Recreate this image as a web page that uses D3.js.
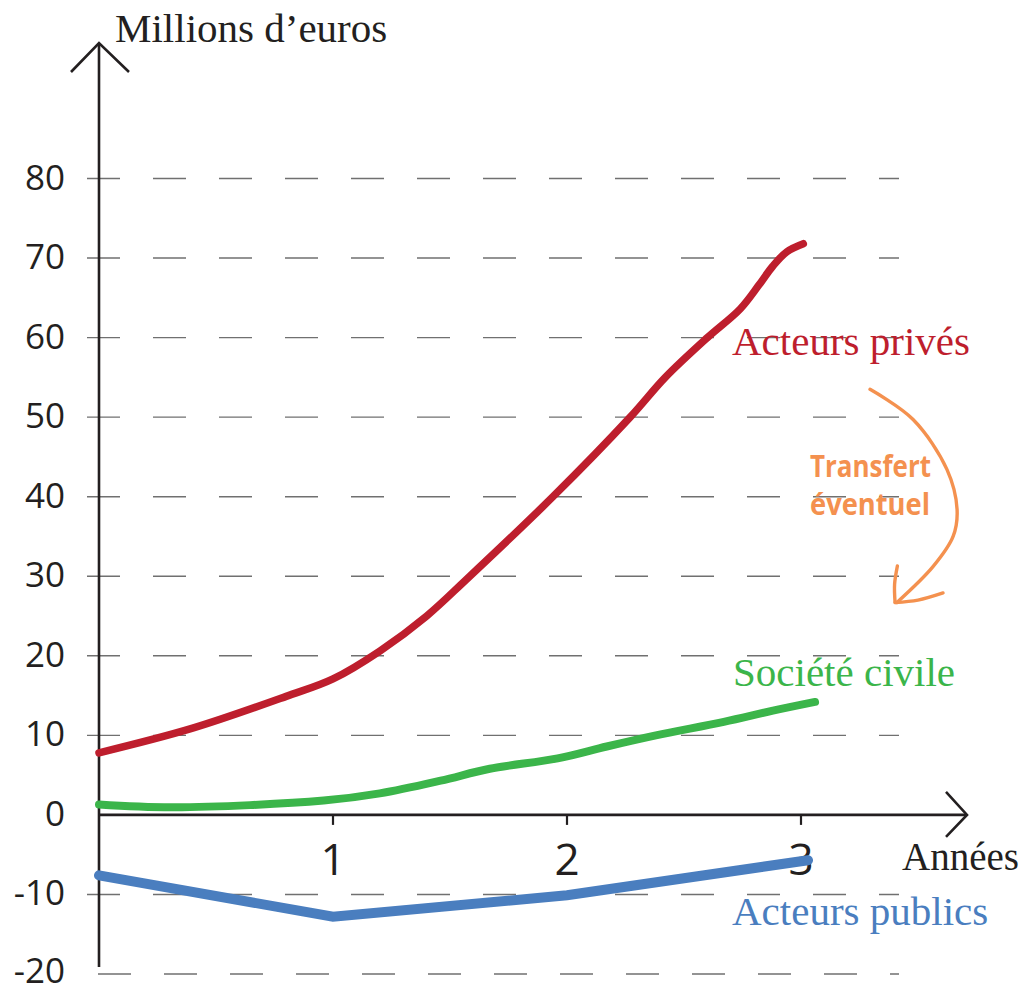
<!DOCTYPE html>
<html lang="fr">
<head>
<meta charset="utf-8">
<script src="https://cdn.jsdelivr.net/npm/d3@7"></script>
<style>
  html, body { margin: 0; padding: 0; background: #ffffff; }
  svg { display: block; }
</style>
</head>
<body>
<svg id="chart" width="1027" height="992"></svg>
<script>
// ---- Data (years on x, millions of euros on y) ----
const yTickValues = [-20, -10, 0, 10, 20, 30, 40, 50, 60, 70, 80];
const xTickValues = [1, 2, 3];

const privesYears  = [0, 0.4, 0.8, 1.0, 1.2, 1.4, 1.57, 1.94, 2.27, 2.42, 2.6, 2.74, 2.82, 2.88, 2.94, 3.01];
const privesValues = [7.8, 10.9, 14.9, 17.1, 20.6, 25.0, 29.6, 40, 50, 55, 60, 63.6, 66.6, 69.0, 70.8, 71.8];

const civileYears  = [0, 0.32, 0.96, 1.2, 1.46, 1.67, 1.96, 2.17, 2.38, 2.67, 2.88, 3.06];
const civileValues = [1.3, 0.95, 1.8, 2.7, 4.3, 5.8, 7.1, 8.6, 10.0, 11.7, 13.1, 14.2];

const publicsYears  = [0, 1, 2, 3.03];
const publicsValues = [-7.6, -12.8, -10.1, -5.7];

const zip = (xs, ys) => xs.map((x, i) => ({ x, y: ys[i] }));

// ---- Scales ----
const svg = d3.select("#chart");
const x = d3.scaleLinear().domain([0, 3]).range([99, 801]);
const y = d3.scaleLinear().domain([-20, 80]).range([974, 178.5]);

const ink = "#231f20";
const colPrives = "#be1e2d";
const colCivile = "#3bb54a";
const colPublics = "#4a7ebf";
const colTransfert = "#f4914f";

// ---- Dashed horizontal guides ----
const grid = svg.append("g");
grid.selectAll("line")
  .data(yTickValues.filter(v => v !== 0))
  .join("line")
  .attr("x1", v => v === -20 ? 98 : 87)
  .attr("x2", 899)
  .attr("y1", v => y(v))
  .attr("y2", v => y(v))
  .attr("stroke", "#707070")
  .attr("stroke-width", 1.4)
  .attr("stroke-dasharray", "33 33");

// ---- Y tick labels ----
svg.append("g").selectAll("text")
  .data(yTickValues)
  .join("text")
  .attr("x", 65)
  .attr("y", v => y(v) + (v === -20 ? 9 : 11))
  .attr("text-anchor", "end")
  .attr("font-family", "'Open Sans', 'Noto Sans', sans-serif")
  .attr("font-size", 35)
  .attr("fill", ink)
  .text(v => v);

// ---- Axes with open arrowheads ----
const axes = svg.append("g")
  .attr("stroke", ink)
  .attr("fill", "none")
  .attr("stroke-width", 2.6);

axes.append("line")
  .attr("x1", x(0)).attr("x2", x(0))
  .attr("y1", 43).attr("y2", 967);
axes.append("polyline")
  .attr("points", [[x(0) - 28, 72], [x(0), 43], [x(0) + 30, 72]].join(" "));

axes.append("line")
  .attr("x1", x(0)).attr("x2", 967)
  .attr("y1", y(0)).attr("y2", y(0));
axes.append("polyline")
  .attr("points", [[946, y(0) - 23], [967, y(0)], [946, y(0) + 22]].join(" "));

axes.selectAll("line.tick")
  .data(xTickValues)
  .join("line")
  .attr("class", "tick")
  .attr("x1", d => x(d)).attr("x2", d => x(d))
  .attr("y1", y(0)).attr("y2", y(0) + 10)
  .attr("stroke-width", 2.2);

svg.append("g").selectAll("text")
  .data(xTickValues)
  .join("text")
  .attr("x", d => x(d))
  .attr("y", 875)
  .attr("text-anchor", "middle")
  .attr("font-family", "'Open Sans', 'Noto Sans', sans-serif")
  .attr("font-size", 44)
  .attr("fill", ink)
  .text(d => d);

// Axis titles
svg.append("text")
  .attr("x", 115).attr("y", 42)
  .attr("font-family", "'Liberation Serif', 'Times New Roman', serif")
  .attr("font-size", 41)
  .attr("fill", ink)
  .text("Millions d\u2019euros");

svg.append("text")
  .attr("x", 902).attr("y", 870)
  .attr("font-family", "'Liberation Serif', 'Times New Roman', serif")
  .attr("font-size", 39)
  .attr("fill", ink)
  .text("Années");

// ---- Series lines ----
const smooth = d3.line()
  .x(d => x(d.x)).y(d => y(d.y))
  .curve(d3.curveCatmullRom.alpha(0.5));
const straight = d3.line()
  .x(d => x(d.x)).y(d => y(d.y));

svg.append("path")
  .datum(zip(civileYears, civileValues))
  .attr("d", smooth)
  .attr("fill", "none")
  .attr("stroke", colCivile)
  .attr("stroke-width", 8)
  .attr("stroke-linecap", "round");

svg.append("path")
  .datum(zip(publicsYears, publicsValues))
  .attr("d", straight)
  .attr("fill", "none")
  .attr("stroke", colPublics)
  .attr("stroke-width", 10)
  .attr("stroke-linecap", "round");

svg.append("path")
  .datum(zip(privesYears, privesValues))
  .attr("d", smooth)
  .attr("fill", "none")
  .attr("stroke", colPrives)
  .attr("stroke-width", 7.5)
  .attr("stroke-linecap", "round")
  .attr("stroke-linejoin", "round");

// ---- Series labels ----
const serif = "'Liberation Serif', 'Times New Roman', serif";
svg.append("text")
  .attr("x", 732).attr("y", 355)
  .attr("font-family", serif).attr("font-size", 41)
  .attr("fill", colPrives)
  .text("Acteurs privés");

svg.append("text")
  .attr("x", 733).attr("y", 686)
  .attr("font-family", serif).attr("font-size", 41)
  .attr("fill", colCivile)
  .text("Société civile");

svg.append("text")
  .attr("x", 732).attr("y", 925)
  .attr("font-family", serif).attr("font-size", 41)
  .attr("fill", colPublics)
  .text("Acteurs publics");

// ---- "Transfert éventuel" annotation: curved hand-drawn arrow ----
const arrowCurve = [[3.295, 53.5], [3.479, 49.7], [3.624, 43.4], [3.667, 38.4],
                    [3.650, 35.0], [3.564, 31.2], [3.410, 26.7]];
const arrowHeadLeft = [[3.412, 31.3], [3.400, 29.0], [3.402, 26.7]];
const arrowHeadRight = [[3.402, 26.7], [3.500, 27.0], [3.607, 27.9]];

const annot = d3.line()
  .x(d => x(d[0])).y(d => y(d[1]))
  .curve(d3.curveCatmullRom.alpha(0.5));

const arrowG = svg.append("g")
  .attr("fill", "none")
  .attr("stroke", colTransfert)
  .attr("stroke-width", 3.4)
  .attr("stroke-linecap", "round")
  .attr("stroke-linejoin", "round");
arrowG.append("path").attr("d", annot(arrowCurve));
arrowG.append("path").attr("d", annot(arrowHeadLeft));
arrowG.append("path").attr("d", annot(arrowHeadRight));

const transfert = svg.append("g")
  .attr("font-family", "'Open Sans', 'Noto Sans', sans-serif")
  .attr("font-weight", 700)
  .attr("font-size", 31)
  .attr("fill", colTransfert);
transfert.append("text")
  .attr("x", 810).attr("y", 477)
  .attr("textLength", 121).attr("lengthAdjust", "spacingAndGlyphs")
  .text("Transfert");
transfert.append("text")
  .attr("x", 810).attr("y", 515)
  .attr("textLength", 120).attr("lengthAdjust", "spacingAndGlyphs")
  .text("éventuel");
</script>
</body>
</html>
